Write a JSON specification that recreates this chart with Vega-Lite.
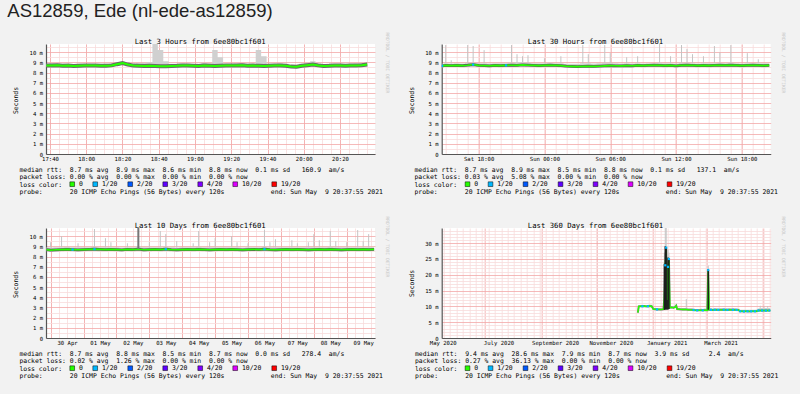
{
"$schema":"https://vega.github.io/schema/vega-lite/v6.json",
"autosize":{"type":"none"},
"padding":{"left":46,"top":44,"right":754,"bottom":350},
"background":"#f2f2f2",
"title":{"text":"AS12859, Ede (nl-ede-as12859)","anchor":"start","frame":"group","font":"Liberation Sans","fontSize":18.5,"fontWeight":"normal","color":"#222222","dx":-38.7,"offset":-3.6,"baseline":"alphabetic"},
"datasets":{
"p1":[
{"t":"2021-05-09T17:38","m":8.68,"lo":8.55,"hi":8.85},
{"t":"2021-05-09T17:41","m":8.7,"lo":8.58,"hi":8.9},
{"t":"2021-05-09T17:44","m":8.72,"lo":8.58,"hi":8.88},
{"t":"2021-05-09T17:47","m":8.66,"lo":8.5,"hi":8.85},
{"t":"2021-05-09T17:50","m":8.68,"lo":8.5,"hi":8.82},
{"t":"2021-05-09T17:53","m":8.65,"lo":8.52,"hi":8.8},
{"t":"2021-05-09T17:56","m":8.66,"lo":8.48,"hi":8.85},
{"t":"2021-05-09T17:59","m":8.68,"lo":8.52,"hi":8.82},
{"t":"2021-05-09T18:02","m":8.7,"lo":8.55,"hi":8.82},
{"t":"2021-05-09T18:05","m":8.68,"lo":8.55,"hi":8.8},
{"t":"2021-05-09T18:08","m":8.66,"lo":8.55,"hi":8.82},
{"t":"2021-05-09T18:11","m":8.66,"lo":8.55,"hi":8.85},
{"t":"2021-05-09T18:14","m":8.7,"lo":8.58,"hi":8.88},
{"t":"2021-05-09T18:17","m":8.82,"lo":8.65,"hi":8.95},
{"t":"2021-05-09T18:20","m":8.92,"lo":8.75,"hi":9.05},
{"t":"2021-05-09T18:23","m":8.78,"lo":8.62,"hi":8.95},
{"t":"2021-05-09T18:26","m":8.68,"lo":8.52,"hi":8.85},
{"t":"2021-05-09T18:29","m":8.66,"lo":8.5,"hi":8.9},
{"t":"2021-05-09T18:32","m":8.65,"lo":8.52,"hi":8.95},
{"t":"2021-05-09T18:35","m":8.66,"lo":8.52,"hi":9.0},
{"t":"2021-05-09T18:38","m":8.64,"lo":8.5,"hi":10.8},
{"t":"2021-05-09T18:41","m":8.62,"lo":8.48,"hi":10.2},
{"t":"2021-05-09T18:44","m":8.62,"lo":8.45,"hi":9.1},
{"t":"2021-05-09T18:47","m":8.64,"lo":8.48,"hi":8.85},
{"t":"2021-05-09T18:50","m":8.66,"lo":8.5,"hi":8.85},
{"t":"2021-05-09T18:53","m":8.7,"lo":8.55,"hi":8.88},
{"t":"2021-05-09T18:56","m":8.68,"lo":8.52,"hi":8.85},
{"t":"2021-05-09T18:59","m":8.66,"lo":8.52,"hi":8.82},
{"t":"2021-05-09T19:02","m":8.64,"lo":8.5,"hi":8.85},
{"t":"2021-05-09T19:05","m":8.68,"lo":8.55,"hi":8.95},
{"t":"2021-05-09T19:08","m":8.66,"lo":8.52,"hi":8.9},
{"t":"2021-05-09T19:11","m":8.64,"lo":8.5,"hi":10.2},
{"t":"2021-05-09T19:14","m":8.66,"lo":8.52,"hi":9.5},
{"t":"2021-05-09T19:17","m":8.68,"lo":8.52,"hi":8.85},
{"t":"2021-05-09T19:20","m":8.7,"lo":8.55,"hi":8.85},
{"t":"2021-05-09T19:23","m":8.68,"lo":8.55,"hi":8.88},
{"t":"2021-05-09T19:26","m":8.72,"lo":8.58,"hi":8.92},
{"t":"2021-05-09T19:29","m":8.66,"lo":8.52,"hi":8.85},
{"t":"2021-05-09T19:32","m":8.68,"lo":8.52,"hi":8.85},
{"t":"2021-05-09T19:35","m":8.66,"lo":8.5,"hi":10.2},
{"t":"2021-05-09T19:38","m":8.64,"lo":8.5,"hi":9.6},
{"t":"2021-05-09T19:41","m":8.66,"lo":8.52,"hi":8.85},
{"t":"2021-05-09T19:44","m":8.68,"lo":8.55,"hi":8.85},
{"t":"2021-05-09T19:47","m":8.7,"lo":8.55,"hi":8.9},
{"t":"2021-05-09T19:50","m":8.66,"lo":8.52,"hi":8.85},
{"t":"2021-05-09T19:53","m":8.58,"lo":8.48,"hi":8.75},
{"t":"2021-05-09T19:56","m":8.56,"lo":8.46,"hi":8.72},
{"t":"2021-05-09T19:59","m":8.66,"lo":8.52,"hi":8.85},
{"t":"2021-05-09T20:02","m":8.72,"lo":8.58,"hi":8.95},
{"t":"2021-05-09T20:05","m":8.78,"lo":8.6,"hi":9.1},
{"t":"2021-05-09T20:08","m":8.7,"lo":8.52,"hi":8.88},
{"t":"2021-05-09T20:11","m":8.64,"lo":8.5,"hi":8.82},
{"t":"2021-05-09T20:14","m":8.66,"lo":8.52,"hi":8.85},
{"t":"2021-05-09T20:17","m":8.7,"lo":8.55,"hi":8.85},
{"t":"2021-05-09T20:20","m":8.68,"lo":8.52,"hi":8.85},
{"t":"2021-05-09T20:23","m":8.66,"lo":8.52,"hi":8.82},
{"t":"2021-05-09T20:26","m":8.68,"lo":8.55,"hi":8.85},
{"t":"2021-05-09T20:29","m":8.7,"lo":8.55,"hi":8.88},
{"t":"2021-05-09T20:32","m":8.72,"lo":8.58,"hi":8.9},
{"t":"2021-05-09T20:35","m":8.78,"lo":8.62,"hi":8.95}
],
"p2":[
{"t":"2021-05-08T14:40","m":8.65,"lo":8.5,"hi":8.85,"loss":"1/20"},
{"t":"2021-05-08T15:00","m":8.7,"lo":8.55,"hi":8.9,"pk":10.7},
{"t":"2021-05-08T15:30","m":8.68,"lo":8.55,"hi":8.88,"pk":9.2},
{"t":"2021-05-08T16:00","m":8.7,"lo":8.55,"hi":8.9},
{"t":"2021-05-08T16:30","m":8.68,"lo":8.52,"hi":8.88},
{"t":"2021-05-08T17:00","m":8.72,"lo":8.55,"hi":8.95,"pk":10.7},
{"t":"2021-05-08T17:30","m":8.78,"lo":8.6,"hi":8.95,"pk":10.6,"loss":"1/20"},
{"t":"2021-05-08T18:00","m":8.7,"lo":8.55,"hi":8.9},
{"t":"2021-05-08T18:30","m":8.68,"lo":8.55,"hi":8.9,"pk":10.2},
{"t":"2021-05-08T19:00","m":8.66,"lo":8.52,"hi":8.88},
{"t":"2021-05-08T19:30","m":8.7,"lo":8.55,"hi":8.9},
{"t":"2021-05-08T20:00","m":8.68,"lo":8.52,"hi":8.9},
{"t":"2021-05-08T20:30","m":8.7,"lo":8.55,"hi":8.9,"loss":"1/20"},
{"t":"2021-05-08T21:00","m":8.72,"lo":8.55,"hi":8.95,"pk":10.7},
{"t":"2021-05-08T21:30","m":8.7,"lo":8.55,"hi":9.0,"pk":9.8},
{"t":"2021-05-08T22:00","m":8.75,"lo":8.58,"hi":9.0,"pk":9.6},
{"t":"2021-05-08T22:30","m":8.72,"lo":8.55,"hi":8.95,"pk":9.7},
{"t":"2021-05-08T23:00","m":8.7,"lo":8.55,"hi":8.92},
{"t":"2021-05-08T23:30","m":8.68,"lo":8.52,"hi":8.9},
{"t":"2021-05-09T00:00","m":8.7,"lo":8.55,"hi":8.9,"pk":9.4},
{"t":"2021-05-09T00:30","m":8.72,"lo":8.55,"hi":8.95},
{"t":"2021-05-09T01:00","m":8.7,"lo":8.55,"hi":8.92},
{"t":"2021-05-09T01:30","m":8.68,"lo":8.52,"hi":8.9,"pk":9.6},
{"t":"2021-05-09T02:00","m":8.62,"lo":8.48,"hi":8.85},
{"t":"2021-05-09T02:30","m":8.6,"lo":8.45,"hi":8.85},
{"t":"2021-05-09T03:00","m":8.58,"lo":8.45,"hi":8.85},
{"t":"2021-05-09T03:30","m":8.6,"lo":8.45,"hi":8.9,"pk":10.7},
{"t":"2021-05-09T04:00","m":8.62,"lo":8.48,"hi":8.9,"pk":9.8},
{"t":"2021-05-09T04:30","m":8.6,"lo":8.45,"hi":8.88},
{"t":"2021-05-09T05:00","m":8.62,"lo":8.48,"hi":8.9},
{"t":"2021-05-09T05:30","m":8.65,"lo":8.5,"hi":8.95,"pk":10.7},
{"t":"2021-05-09T06:00","m":8.68,"lo":8.52,"hi":8.95,"pk":9.9},
{"t":"2021-05-09T06:30","m":8.66,"lo":8.5,"hi":8.9},
{"t":"2021-05-09T07:00","m":8.65,"lo":8.5,"hi":8.88},
{"t":"2021-05-09T07:30","m":8.68,"lo":8.52,"hi":8.9,"pk":9.5},
{"t":"2021-05-09T08:00","m":8.66,"lo":8.5,"hi":8.88},
{"t":"2021-05-09T08:30","m":8.7,"lo":8.55,"hi":8.9,"pk":9.6},
{"t":"2021-05-09T09:00","m":8.68,"lo":8.52,"hi":8.88},
{"t":"2021-05-09T09:30","m":8.7,"lo":8.55,"hi":8.9},
{"t":"2021-05-09T10:00","m":8.72,"lo":8.55,"hi":8.92},
{"t":"2021-05-09T10:30","m":8.7,"lo":8.55,"hi":8.95,"pk":10.8},
{"t":"2021-05-09T11:00","m":8.68,"lo":8.52,"hi":8.9},
{"t":"2021-05-09T11:30","m":8.7,"lo":8.55,"hi":8.9,"pk":9.6},
{"t":"2021-05-09T12:00","m":8.66,"lo":8.5,"hi":8.88},
{"t":"2021-05-09T12:30","m":8.7,"lo":8.55,"hi":8.95,"pk":10.7},
{"t":"2021-05-09T13:00","m":8.72,"lo":8.55,"hi":8.95,"pk":10.3},
{"t":"2021-05-09T13:30","m":8.7,"lo":8.55,"hi":8.9,"pk":9.8},
{"t":"2021-05-09T14:00","m":8.68,"lo":8.52,"hi":8.88},
{"t":"2021-05-09T14:30","m":8.7,"lo":8.55,"hi":8.9,"pk":9.6},
{"t":"2021-05-09T15:00","m":8.68,"lo":8.52,"hi":8.9},
{"t":"2021-05-09T15:30","m":8.7,"lo":8.55,"hi":8.92,"pk":10.6},
{"t":"2021-05-09T16:00","m":8.72,"lo":8.55,"hi":8.92,"pk":10.0},
{"t":"2021-05-09T16:30","m":8.7,"lo":8.55,"hi":8.9},
{"t":"2021-05-09T17:00","m":8.72,"lo":8.55,"hi":8.95,"pk":10.7},
{"t":"2021-05-09T17:30","m":8.7,"lo":8.55,"hi":8.9},
{"t":"2021-05-09T18:00","m":8.68,"lo":8.52,"hi":8.88},
{"t":"2021-05-09T18:30","m":8.7,"lo":8.55,"hi":8.9,"pk":9.9},
{"t":"2021-05-09T19:00","m":8.72,"lo":8.55,"hi":8.92},
{"t":"2021-05-09T19:30","m":8.7,"lo":8.55,"hi":8.9,"pk":9.3},
{"t":"2021-05-09T20:00","m":8.68,"lo":8.52,"hi":8.9},
{"t":"2021-05-09T20:30","m":8.7,"lo":8.55,"hi":8.9}
],
"p3":[
{"t":"2021-04-29T21:00","m":8.68,"lo":8.52,"hi":8.9},
{"t":"2021-04-30T00:00","m":8.62,"lo":8.45,"hi":8.88,"pk":9.4},
{"t":"2021-04-30T04:00","m":8.66,"lo":8.5,"hi":8.9},
{"t":"2021-04-30T08:00","m":8.68,"lo":8.52,"hi":8.92,"pk":10.0},
{"t":"2021-04-30T12:00","m":8.7,"lo":8.55,"hi":8.95},
{"t":"2021-04-30T16:00","m":8.68,"lo":8.52,"hi":8.9,"loss":"1/20"},
{"t":"2021-04-30T20:00","m":8.66,"lo":8.5,"hi":8.9,"pk":9.3},
{"t":"2021-05-01T00:00","m":8.68,"lo":8.52,"hi":8.9},
{"t":"2021-05-01T04:00","m":8.7,"lo":8.55,"hi":8.92},
{"t":"2021-05-01T08:00","m":8.72,"lo":8.55,"hi":8.95,"pk":10.7,"loss":"1/20"},
{"t":"2021-05-01T12:00","m":8.7,"lo":8.52,"hi":8.92},
{"t":"2021-05-01T16:00","m":8.68,"lo":8.52,"hi":8.9,"pk":9.8},
{"t":"2021-05-01T20:00","m":8.7,"lo":8.55,"hi":8.92,"pk":9.4},
{"t":"2021-05-02T00:00","m":8.68,"lo":8.52,"hi":8.9},
{"t":"2021-05-02T04:00","m":8.66,"lo":8.5,"hi":8.88},
{"t":"2021-05-02T08:00","m":8.7,"lo":8.55,"hi":8.9,"pk":9.3},
{"t":"2021-05-02T12:00","m":8.68,"lo":8.52,"hi":8.92},
{"t":"2021-05-02T16:00","m":8.72,"lo":8.55,"hi":9.0,"pk":10.85,"q1":8.75,"q3":10.8},
{"t":"2021-05-02T20:00","m":8.66,"lo":8.5,"hi":8.9},
{"t":"2021-05-03T00:00","m":8.68,"lo":8.52,"hi":8.9,"pk":9.4},
{"t":"2021-05-03T04:00","m":8.7,"lo":8.55,"hi":8.92},
{"t":"2021-05-03T08:00","m":8.68,"lo":8.52,"hi":8.9,"pk":10.5},
{"t":"2021-05-03T12:00","m":8.72,"lo":8.55,"hi":8.95,"pk":10.2,"loss":"1/20"},
{"t":"2021-05-03T16:00","m":8.68,"lo":8.52,"hi":8.9},
{"t":"2021-05-03T20:00","m":8.66,"lo":8.5,"hi":8.88,"pk":9.5},
{"t":"2021-05-04T00:00","m":8.68,"lo":8.52,"hi":8.9},
{"t":"2021-05-04T04:00","m":8.7,"lo":8.55,"hi":8.9},
{"t":"2021-05-04T08:00","m":8.68,"lo":8.52,"hi":8.92,"pk":9.3},
{"t":"2021-05-04T12:00","m":8.7,"lo":8.55,"hi":8.95,"pk":10.5},
{"t":"2021-05-04T16:00","m":8.68,"lo":8.52,"hi":8.9},
{"t":"2021-05-04T20:00","m":8.66,"lo":8.5,"hi":8.9,"pk":9.4},
{"t":"2021-05-05T00:00","m":8.68,"lo":8.52,"hi":8.92,"pk":9.8},
{"t":"2021-05-05T04:00","m":8.7,"lo":8.55,"hi":8.9},
{"t":"2021-05-05T08:00","m":8.68,"lo":8.52,"hi":8.9},
{"t":"2021-05-05T12:00","m":8.7,"lo":8.55,"hi":8.92,"pk":10.0},
{"t":"2021-05-05T16:00","m":8.68,"lo":8.52,"hi":8.9,"pk":9.4},
{"t":"2021-05-05T20:00","m":8.66,"lo":8.5,"hi":8.88},
{"t":"2021-05-06T00:00","m":8.68,"lo":8.52,"hi":8.9,"pk":9.3},
{"t":"2021-05-06T04:00","m":8.7,"lo":8.55,"hi":8.9},
{"t":"2021-05-06T08:00","m":8.68,"lo":8.52,"hi":8.9},
{"t":"2021-05-06T12:00","m":8.72,"lo":8.55,"hi":8.95,"pk":10.6,"loss":"1/20"},
{"t":"2021-05-06T16:00","m":8.68,"lo":8.52,"hi":8.9,"pk":9.4},
{"t":"2021-05-06T20:00","m":8.66,"lo":8.5,"hi":8.9,"pk":9.7},
{"t":"2021-05-07T00:00","m":8.68,"lo":8.52,"hi":8.9},
{"t":"2021-05-07T04:00","m":8.7,"lo":8.55,"hi":8.92},
{"t":"2021-05-07T08:00","m":8.68,"lo":8.52,"hi":8.9,"pk":9.6},
{"t":"2021-05-07T12:00","m":8.7,"lo":8.55,"hi":8.92,"pk":9.3},
{"t":"2021-05-07T16:00","m":8.68,"lo":8.52,"hi":8.9},
{"t":"2021-05-07T20:00","m":8.66,"lo":8.5,"hi":8.9,"pk":9.4},
{"t":"2021-05-08T00:00","m":8.68,"lo":8.52,"hi":8.92,"pk":10.2},
{"t":"2021-05-08T04:00","m":8.7,"lo":8.55,"hi":8.9,"pk":9.6},
{"t":"2021-05-08T08:00","m":8.68,"lo":8.52,"hi":8.9},
{"t":"2021-05-08T12:00","m":8.7,"lo":8.55,"hi":8.95,"pk":10.5},
{"t":"2021-05-08T16:00","m":8.68,"lo":8.52,"hi":8.9,"pk":9.5},
{"t":"2021-05-08T20:00","m":8.66,"lo":8.5,"hi":8.9},
{"t":"2021-05-09T00:00","m":8.68,"lo":8.52,"hi":8.9,"pk":9.4},
{"t":"2021-05-09T04:00","m":8.7,"lo":8.55,"hi":8.92},
{"t":"2021-05-09T08:00","m":8.68,"lo":8.52,"hi":8.9,"pk":10.6},
{"t":"2021-05-09T12:00","m":8.7,"lo":8.55,"hi":8.92,"pk":9.5},
{"t":"2021-05-09T16:00","m":8.68,"lo":8.52,"hi":8.9,"pk":10.2},
{"t":"2021-05-09T20:00","m":8.7,"lo":8.55,"hi":8.92}
],
"p4":[
{"t":"2020-12-15T12:00","m":8.0,"lo":7.85,"hi":8.3},
{"t":"2020-12-16T12:00","m":10.0,"lo":9.8,"hi":10.3},
{"t":"2020-12-18T12:00","m":10.05,"lo":9.85,"hi":10.35},
{"t":"2020-12-20T12:00","m":10.05,"lo":9.85,"hi":10.4,"loss":"1/20"},
{"t":"2020-12-22T12:00","m":10.1,"lo":9.9,"hi":10.45},
{"t":"2020-12-24T12:00","m":10.0,"lo":9.8,"hi":10.4},
{"t":"2020-12-26T12:00","m":10.05,"lo":9.85,"hi":10.4,"loss":"1/20"},
{"t":"2020-12-28T12:00","m":10.1,"lo":9.9,"hi":10.6},
{"t":"2020-12-30T12:00","m":10.05,"lo":9.85,"hi":10.5},
{"t":"2021-01-01T12:00","m":9.15,"lo":8.95,"hi":9.5},
{"t":"2021-01-03T12:00","m":9.1,"lo":8.9,"hi":9.45},
{"t":"2021-01-05T12:00","m":9.05,"lo":8.85,"hi":9.4,"loss":"1/20"},
{"t":"2021-01-07T12:00","m":9.05,"lo":8.85,"hi":9.4},
{"t":"2021-01-09T12:00","m":9.0,"lo":8.8,"hi":9.4},
{"t":"2021-01-11T12:00","m":9.05,"lo":8.85,"hi":9.45},
{"t":"2021-01-12T12:00","m":9.1,"lo":8.9,"hi":9.5},
{"t":"2021-01-13T12:00","m":12.5,"lo":8.8,"hi":9.6,"q1":8.9,"q3":23.5,"pk":27},
{"t":"2021-01-14T12:00","m":23.0,"lo":8.8,"hi":9.6,"q1":9.0,"q3":29,"pk":34.8,"loss":"1/20"},
{"t":"2021-01-15T12:00","m":28.6,"lo":8.8,"hi":9.6,"q1":9.0,"q3":28.8,"pk":34.8,"loss":"1/20"},
{"t":"2021-01-16T12:00","m":9.3,"lo":8.9,"hi":9.8,"q1":9.0,"q3":12},
{"t":"2021-01-17T12:00","m":22.5,"lo":8.8,"hi":9.6,"q1":9.0,"q3":25.5,"pk":28,"loss":"1/20"},
{"t":"2021-01-18T12:00","m":25.0,"lo":9.0,"hi":9.8,"q1":9.2,"q3":25.2,"pk":27,"loss":"1/20"},
{"t":"2021-01-19T12:00","m":9.6,"lo":9.3,"hi":10.0},
{"t":"2021-01-21T12:00","m":9.7,"lo":9.4,"hi":10.1},
{"t":"2021-01-23T12:00","m":9.6,"lo":9.35,"hi":10.0},
{"t":"2021-01-25T12:00","m":9.8,"lo":9.5,"hi":10.6},
{"t":"2021-01-26T12:00","m":10.2,"lo":9.9,"hi":10.6},
{"t":"2021-01-27T12:00","m":9.15,"lo":8.95,"hi":9.6},
{"t":"2021-01-29T12:00","m":9.1,"lo":8.9,"hi":9.6},
{"t":"2021-01-31T12:00","m":9.05,"lo":8.85,"hi":9.5},
{"t":"2021-02-02T12:00","m":9.0,"lo":8.8,"hi":9.5},
{"t":"2021-02-04T12:00","m":9.0,"lo":8.8,"hi":9.5},
{"t":"2021-02-06T12:00","m":9.0,"lo":8.8,"hi":9.5,"pk":12.3},
{"t":"2021-02-08T12:00","m":8.95,"lo":8.75,"hi":9.4},
{"t":"2021-02-10T12:00","m":8.9,"lo":8.7,"hi":9.4},
{"t":"2021-02-12T12:00","m":8.9,"lo":8.7,"hi":9.4},
{"t":"2021-02-14T12:00","m":8.85,"lo":8.65,"hi":9.3,"loss":"1/20"},
{"t":"2021-02-16T12:00","m":8.75,"lo":8.55,"hi":9.2},
{"t":"2021-02-18T12:00","m":8.75,"lo":8.55,"hi":9.2,"loss":"1/20"},
{"t":"2021-02-20T12:00","m":8.75,"lo":8.55,"hi":9.2},
{"t":"2021-02-22T12:00","m":8.8,"lo":8.6,"hi":9.3},
{"t":"2021-02-24T12:00","m":8.75,"lo":8.55,"hi":9.2,"loss":"1/20"},
{"t":"2021-02-26T12:00","m":8.8,"lo":8.6,"hi":9.3},
{"t":"2021-02-28T12:00","m":8.8,"lo":8.6,"hi":9.3},
{"t":"2021-03-01T12:00","m":8.8,"lo":8.6,"hi":9.3},
{"t":"2021-03-02T12:00","m":21.5,"lo":8.8,"hi":9.4,"q1":8.9,"q3":21.8,"pk":22.9,"loss":"1/20"},
{"t":"2021-03-03T12:00","m":8.9,"lo":8.7,"hi":9.4},
{"t":"2021-03-05T12:00","m":8.9,"lo":8.7,"hi":9.4,"loss":"1/20"},
{"t":"2021-03-07T12:00","m":8.85,"lo":8.65,"hi":9.35},
{"t":"2021-03-09T12:00","m":8.9,"lo":8.7,"hi":9.4,"loss":"1/20"},
{"t":"2021-03-11T12:00","m":8.9,"lo":8.7,"hi":9.4},
{"t":"2021-03-13T12:00","m":8.88,"lo":8.68,"hi":9.4,"loss":"1/20"},
{"t":"2021-03-15T12:00","m":8.9,"lo":8.7,"hi":9.45},
{"t":"2021-03-17T12:00","m":8.9,"lo":8.7,"hi":9.4},
{"t":"2021-03-19T12:00","m":8.92,"lo":8.72,"hi":9.45,"loss":"1/20"},
{"t":"2021-03-21T12:00","m":8.9,"lo":8.7,"hi":9.4},
{"t":"2021-03-23T12:00","m":8.88,"lo":8.68,"hi":9.4,"loss":"1/20"},
{"t":"2021-03-25T12:00","m":8.9,"lo":8.7,"hi":9.5},
{"t":"2021-03-27T12:00","m":8.92,"lo":8.72,"hi":9.45},
{"t":"2021-03-29T12:00","m":8.9,"lo":8.7,"hi":9.4,"loss":"1/20"},
{"t":"2021-03-31T12:00","m":8.9,"lo":8.7,"hi":9.4},
{"t":"2021-04-02T12:00","m":8.88,"lo":8.68,"hi":9.4,"loss":"1/20"},
{"t":"2021-04-04T12:00","m":8.85,"lo":8.65,"hi":9.35},
{"t":"2021-04-06T12:00","m":8.45,"lo":8.3,"hi":8.9,"loss":"1/20"},
{"t":"2021-04-08T12:00","m":8.45,"lo":8.3,"hi":8.9},
{"t":"2021-04-10T12:00","m":8.42,"lo":8.28,"hi":8.9,"loss":"1/20"},
{"t":"2021-04-12T12:00","m":8.45,"lo":8.3,"hi":8.95},
{"t":"2021-04-14T12:00","m":8.45,"lo":8.3,"hi":8.9,"loss":"1/20"},
{"t":"2021-04-16T12:00","m":8.42,"lo":8.28,"hi":8.9},
{"t":"2021-04-18T12:00","m":8.45,"lo":8.3,"hi":8.9,"loss":"1/20"},
{"t":"2021-04-20T12:00","m":8.45,"lo":8.3,"hi":8.95},
{"t":"2021-04-22T12:00","m":8.45,"lo":8.3,"hi":8.9,"loss":"1/20"},
{"t":"2021-04-24T12:00","m":8.48,"lo":8.32,"hi":9.0},
{"t":"2021-04-26T12:00","m":8.7,"lo":8.5,"hi":9.3,"loss":"1/20"},
{"t":"2021-04-28T12:00","m":8.68,"lo":8.5,"hi":9.6,"pk":10.2},
{"t":"2021-04-30T12:00","m":8.7,"lo":8.5,"hi":9.5,"loss":"1/20"},
{"t":"2021-05-02T12:00","m":8.7,"lo":8.5,"hi":9.6,"pk":10.0},
{"t":"2021-05-04T12:00","m":8.68,"lo":8.5,"hi":9.5,"loss":"1/20"},
{"t":"2021-05-06T12:00","m":8.7,"lo":8.5,"hi":9.6,"pk":10.1},
{"t":"2021-05-08T12:00","m":8.7,"lo":8.5,"hi":9.5,"loss":"1/20"},
{"t":"2021-05-09T12:00","m":8.7,"lo":8.5,"hi":9.4}
]
},
"concat":[
{
"width":329,"height":110,
"title":{"text":"Last 3 Hours from 6ee80bc1f601","dx":-10.3,"offset":-13.4},
"data":{"name":"p1"},
"layer":[
{"mark":{"type":"area","interpolate":"step","color":"#d0d0d0","clip":true},
"encoding":{
"x":{"field":"t","type":"temporal","scale":{"domain":[{"year":2021,"month":5,"date":9,"hours":17,"minutes":37,"seconds":48},{"year":2021,"month":5,"date":9,"hours":20,"minutes":39,"seconds":18}]},"axis":{"orient":"bottom","grid":true,"gridColor":"#f8dcdc","labels":false,"ticks":false,"domain":false,"title":null,"tickCount":36}},
"y":{"field":"lo","type":"quantitative","scale":{"domain":[0,10.8],"nice":false},"axis":{"orient":"left","grid":true,"gridColor":"#f8dcdc","labels":false,"ticks":false,"domain":false,"title":null,"values":[0.5,1.5,2.5,3.5,4.5,5.5,6.5,7.5,8.5,9.5,10.5]}},
"y2":{"field":"hi"}}},
{"mark":{"type":"rule","color":"#c4c4c4","strokeWidth":1,"clip":true},
"transform":[{"filter":"datum.pk != null"}],
"encoding":{
"x":{"field":"t","type":"temporal","axis":{"orient":"bottom","grid":true,"gridColor":"#f3a8a8","labels":false,"ticks":false,"domain":false,"title":null,"values":[{"year":2021,"month":5,"date":9,"hours":17,"minutes":40},{"year":2021,"month":5,"date":9,"hours":18,"minutes":0},{"year":2021,"month":5,"date":9,"hours":18,"minutes":20},{"year":2021,"month":5,"date":9,"hours":18,"minutes":40},{"year":2021,"month":5,"date":9,"hours":19,"minutes":0},{"year":2021,"month":5,"date":9,"hours":19,"minutes":20},{"year":2021,"month":5,"date":9,"hours":19,"minutes":40},{"year":2021,"month":5,"date":9,"hours":20,"minutes":0},{"year":2021,"month":5,"date":9,"hours":20,"minutes":20}]}},
"y":{"field":"hi","type":"quantitative","axis":{"orient":"left","grid":true,"gridColor":"#f3a8a8","values":[0,1,2,3,4,5,6,7,8,9,10],"labelExpr":"datum.value == 0 ? '0' : datum.value + ' m'","domain":true,"domainColor":"#555555","domainWidth":1.2,"ticks":false,"labelPadding":3.5,"title":"Seconds","titleX":-30.7,"titleY":56,"titleAngle":-90,"titleAlign":"center","titleBaseline":"middle"}},
"y2":{"field":"pk"}}},
{"mark":{"type":"line","color":"#6a6a6a","strokeWidth":4,"clip":true},
"encoding":{
"x":{"field":"t","type":"temporal","axis":{"orient":"bottom","grid":false,"labels":true,"ticks":false,"domain":true,"domainColor":"#555555","domainWidth":1.2,"labelPadding":2,"format":"%H:%M","values":[{"year":2021,"month":5,"date":9,"hours":17,"minutes":40},{"year":2021,"month":5,"date":9,"hours":18,"minutes":0},{"year":2021,"month":5,"date":9,"hours":18,"minutes":20},{"year":2021,"month":5,"date":9,"hours":18,"minutes":40},{"year":2021,"month":5,"date":9,"hours":19,"minutes":0},{"year":2021,"month":5,"date":9,"hours":19,"minutes":20},{"year":2021,"month":5,"date":9,"hours":19,"minutes":40},{"year":2021,"month":5,"date":9,"hours":20,"minutes":0},{"year":2021,"month":5,"date":9,"hours":20,"minutes":20}],"labelOverlap":false,"title":["median rtt:\u00a0\u00a08.7 ms avg\u00a0\u00a08.9 ms max\u00a0\u00a08.6 ms min\u00a0\u00a08.8 ms now\u00a0\u00a00.1 ms sd\u00a0\u00a0\u00a0160.9\u00a0\u00a0am/s","packet loss: 0.00 % avg\u00a0\u00a00.00 % max\u00a0\u00a00.00 % min\u00a0\u00a00.00 % now","loss color:","probe:\u00a0\u00a0\u00a0\u00a0\u00a0\u00a0\u00a020 ICMP Echo Pings (56 Bytes) every 120s\u00a0\u00a0\u00a0\u00a0\u00a0\u00a0\u00a0\u00a0\u00a0\u00a0\u00a0\u00a0end: Sun May\u00a0\u00a09 20:37:55 2021"],"titleX":-27,"titleY":12,"titleAlign":"left","titleAnchor":"start","titleBaseline":"top","titleAngle":0,"titleLineHeight":7.55}},
"y":{"field":"m","type":"quantitative","axis":{"orient":"right","grid":false,"labels":false,"ticks":false,"domain":false,"title":"RRDTOOL / TOBI OETIKER","titleX":11.7,"titleY":-12,"titleAngle":90,"titleAlign":"left","titleBaseline":"middle","titleFontSize":4.6,"titleColor":"#c8c8c8"}}}},
{"mark":{"type":"line","color":"#26ff00","strokeWidth":2,"clip":true},
"encoding":{"x":{"field":"t","type":"temporal","axis":null},"y":{"field":"m","type":"quantitative","axis":null}}},
{"mark":{"type":"square","size":5,"filled":true,"opacity":1,"clip":true},
"transform":[{"filter":"datum.loss != null"}],
"encoding":{"x":{"field":"t","type":"temporal","axis":null},"y":{"field":"m","type":"quantitative","axis":null},
"color":{"field":"loss","type":"nominal","scale":{"domain":["0","1/20","2/20","3/20","4/20","10/20","19/20"],"range":["#26ff00","#00b8ff","#0059ff","#5e00ff","#7e00ff","#dd00ff","#ff0000"]},"legend":{"orient":"none","legendX":23,"legendY":136.8,"direction":"horizontal","title":null}}}}
],
"resolve":{"axis":{"x":"independent","y":"independent"}}
},
{
"width":329,"height":110,
"title":{"text":"Last 30 Hours from 6ee80bc1f601","dx":-10.7,"offset":-13.4},
"data":{"name":"p2"},
"layer":[
{"mark":{"type":"area","interpolate":"step","color":"#d0d0d0","clip":true},
"encoding":{
"x":{"field":"t","type":"temporal","scale":{"domain":[{"year":2021,"month":5,"date":8,"hours":14,"minutes":37,"seconds":55},{"year":2021,"month":5,"date":9,"hours":20,"minutes":37,"seconds":55}]},"axis":{"orient":"bottom","grid":true,"gridColor":"#f8dcdc","labels":false,"ticks":false,"domain":false,"title":null,"tickCount":30}},
"y":{"field":"lo","type":"quantitative","scale":{"domain":[0,10.8],"nice":false},"axis":{"orient":"left","grid":true,"gridColor":"#f8dcdc","labels":false,"ticks":false,"domain":false,"title":null,"values":[0.5,1.5,2.5,3.5,4.5,5.5,6.5,7.5,8.5,9.5,10.5]}},
"y2":{"field":"hi"}}},
{"mark":{"type":"rule","color":"#c4c4c4","strokeWidth":1,"clip":true},
"transform":[{"filter":"datum.pk != null"}],
"encoding":{
"x":{"field":"t","type":"temporal","axis":{"orient":"bottom","grid":true,"gridColor":"#f3a8a8","labels":false,"ticks":false,"domain":false,"title":null,"tickCount":5}},
"y":{"field":"hi","type":"quantitative","axis":{"orient":"left","grid":true,"gridColor":"#f3a8a8","values":[0,1,2,3,4,5,6,7,8,9,10],"labelExpr":"datum.value == 0 ? '0' : datum.value + ' m'","domain":true,"domainColor":"#555555","domainWidth":1.2,"ticks":false,"labelPadding":3.5,"title":"Seconds","titleX":-30.7,"titleY":56,"titleAngle":-90,"titleAlign":"center","titleBaseline":"middle"}},
"y2":{"field":"pk"}}},
{"mark":{"type":"line","color":"#5a5a5a","strokeWidth":2.8,"clip":true},
"encoding":{
"x":{"field":"t","type":"temporal","axis":{"orient":"bottom","grid":false,"labels":true,"ticks":false,"domain":true,"domainColor":"#555555","domainWidth":1.2,"labelPadding":2,"format":"%a %H:%M","tickCount":5,"labelOverlap":false,"title":["median rtt:\u00a0\u00a08.7 ms avg\u00a0\u00a08.9 ms max\u00a0\u00a08.5 ms min\u00a0\u00a08.8 ms now\u00a0\u00a00.1 ms sd\u00a0\u00a0\u00a0137.1\u00a0\u00a0am/s","packet loss: 0.03 % avg\u00a0\u00a05.08 % max\u00a0\u00a00.00 % min\u00a0\u00a00.00 % now","loss color:","probe:\u00a0\u00a0\u00a0\u00a0\u00a0\u00a0\u00a020 ICMP Echo Pings (56 Bytes) every 120s\u00a0\u00a0\u00a0\u00a0\u00a0\u00a0\u00a0\u00a0\u00a0\u00a0\u00a0\u00a0end: Sun May\u00a0\u00a09 20:37:55 2021"],"titleX":-27.7,"titleY":12,"titleAlign":"left","titleAnchor":"start","titleBaseline":"top","titleAngle":0,"titleLineHeight":7.55}},
"y":{"field":"m","type":"quantitative","axis":{"orient":"right","grid":false,"labels":false,"ticks":false,"domain":false,"title":"RRDTOOL / TOBI OETIKER","titleX":11.7,"titleY":-12,"titleAngle":90,"titleAlign":"left","titleBaseline":"middle","titleFontSize":4.6,"titleColor":"#c8c8c8"}}}},
{"mark":{"type":"line","color":"#26ff00","strokeWidth":1.6,"clip":true},
"encoding":{"x":{"field":"t","type":"temporal","axis":null},"y":{"field":"m","type":"quantitative","axis":null}}},
{"mark":{"type":"square","size":5,"filled":true,"opacity":1,"clip":true},
"transform":[{"filter":"datum.loss != null"}],
"encoding":{"x":{"field":"t","type":"temporal","axis":null},"y":{"field":"m","type":"quantitative","axis":null},
"color":{"field":"loss","type":"nominal","scale":{"domain":["0","1/20","2/20","3/20","4/20","10/20","19/20"],"range":["#26ff00","#00b8ff","#0059ff","#5e00ff","#7e00ff","#dd00ff","#ff0000"]},"legend":{"orient":"none","legendX":22.6,"legendY":136.8,"direction":"horizontal","title":null}}}}
],
"resolve":{"axis":{"x":"independent","y":"independent"}}
},
{
"width":329,"height":110,
"title":{"text":"Last 10 Days from 6ee80bc1f601","dx":-10.3,"offset":-13.4},
"data":{"name":"p3"},
"layer":[
{"mark":{"type":"area","interpolate":"step","color":"#d0d0d0","clip":true},
"encoding":{
"x":{"field":"t","type":"temporal","scale":{"domain":[{"year":2021,"month":4,"date":29,"hours":20,"minutes":37,"seconds":55},{"year":2021,"month":5,"date":9,"hours":20,"minutes":37,"seconds":55}]},"axis":{"orient":"bottom","grid":true,"gridColor":"#f8dcdc","labels":false,"ticks":false,"domain":false,"title":null,"tickCount":40}},
"y":{"field":"lo","type":"quantitative","scale":{"domain":[0,10.8],"nice":false},"axis":{"orient":"left","grid":true,"gridColor":"#f8dcdc","labels":false,"ticks":false,"domain":false,"title":null,"values":[0.5,1.5,2.5,3.5,4.5,5.5,6.5,7.5,8.5,9.5,10.5]}},
"y2":{"field":"hi"}}},
{"mark":{"type":"rule","color":"#c4c4c4","strokeWidth":1,"clip":true},
"transform":[{"filter":"datum.pk != null"}],
"encoding":{
"x":{"field":"t","type":"temporal","axis":{"orient":"bottom","grid":true,"gridColor":"#f3a8a8","labels":false,"ticks":false,"domain":false,"title":null,"tickCount":10}},
"y":{"field":"hi","type":"quantitative","axis":{"orient":"left","grid":true,"gridColor":"#f3a8a8","values":[0,1,2,3,4,5,6,7,8,9,10],"labelExpr":"datum.value == 0 ? '0' : datum.value + ' m'","domain":true,"domainColor":"#555555","domainWidth":1.2,"ticks":false,"labelPadding":3.5,"title":"Seconds","titleX":-30.7,"titleY":56,"titleAngle":-90,"titleAlign":"center","titleBaseline":"middle"}},
"y2":{"field":"pk"}}},
{"mark":{"type":"line","color":"#5a5a5a","strokeWidth":2.8,"clip":true},
"encoding":{
"x":{"field":"t","type":"temporal","axis":{"orient":"bottom","grid":false,"labels":true,"ticks":false,"domain":true,"domainColor":"#555555","domainWidth":1.2,"labelPadding":2,"labelOffset":16.45,"format":"%d %b","tickCount":10,"labelOverlap":false,"title":["median rtt:\u00a0\u00a08.7 ms avg\u00a0\u00a08.8 ms max\u00a0\u00a08.5 ms min\u00a0\u00a08.7 ms now\u00a0\u00a00.0 ms sd\u00a0\u00a0\u00a0278.4\u00a0\u00a0am/s","packet loss: 0.02 % avg\u00a0\u00a01.26 % max\u00a0\u00a00.00 % min\u00a0\u00a00.00 % now","loss color:","probe:\u00a0\u00a0\u00a0\u00a0\u00a0\u00a0\u00a020 ICMP Echo Pings (56 Bytes) every 120s\u00a0\u00a0\u00a0\u00a0\u00a0\u00a0\u00a0\u00a0\u00a0\u00a0\u00a0\u00a0end: Sun May\u00a0\u00a09 20:37:55 2021"],"titleX":-27,"titleY":12,"titleAlign":"left","titleAnchor":"start","titleBaseline":"top","titleAngle":0,"titleLineHeight":7.55}},
"y":{"field":"m","type":"quantitative","axis":{"orient":"right","grid":false,"labels":false,"ticks":false,"domain":false,"title":"RRDTOOL / TOBI OETIKER","titleX":11.7,"titleY":-12,"titleAngle":90,"titleAlign":"left","titleBaseline":"middle","titleFontSize":4.6,"titleColor":"#c8c8c8"}}}},
{"mark":{"type":"line","color":"#26ff00","strokeWidth":1.6,"clip":true},
"encoding":{"x":{"field":"t","type":"temporal","axis":null},"y":{"field":"m","type":"quantitative","axis":null}}},
{"mark":{"type":"rule","color":"#777777","strokeWidth":2,"clip":true},
"transform":[{"filter":"datum.q1 != null"}],
"encoding":{"x":{"field":"t","type":"temporal","axis":null},"y":{"field":"q1","type":"quantitative","axis":null},"y2":{"field":"q3"}}},
{"mark":{"type":"square","size":5,"filled":true,"opacity":1,"clip":true},
"transform":[{"filter":"datum.loss != null"}],
"encoding":{"x":{"field":"t","type":"temporal","axis":null},"y":{"field":"m","type":"quantitative","axis":null},
"color":{"field":"loss","type":"nominal","scale":{"domain":["0","1/20","2/20","3/20","4/20","10/20","19/20"],"range":["#26ff00","#00b8ff","#0059ff","#5e00ff","#7e00ff","#dd00ff","#ff0000"]},"legend":{"orient":"none","legendX":23,"legendY":136.8,"direction":"horizontal","title":null}}}}
],
"resolve":{"axis":{"x":"independent","y":"independent"}}
},
{
"width":329,"height":110,
"title":{"text":"Last 360 Days from 6ee80bc1f601","dx":-10.7,"offset":-13.4},
"data":{"name":"p4"},
"layer":[
{"mark":{"type":"area","interpolate":"step","color":"#d0d0d0","clip":true},
"encoding":{
"x":{"field":"t","type":"temporal","scale":{"domain":[{"year":2020,"month":5,"date":14,"hours":20,"minutes":37,"seconds":55},{"year":2021,"month":5,"date":9,"hours":20,"minutes":37,"seconds":55}]},"axis":{"orient":"bottom","grid":true,"gridColor":"#f8dcdc","labels":false,"ticks":false,"domain":false,"title":null,"tickCount":51}},
"y":{"field":"lo","type":"quantitative","scale":{"domain":[0,34.8],"nice":false},"axis":{"orient":"left","grid":true,"gridColor":"#f8dcdc","labels":false,"ticks":false,"domain":false,"title":null,"values":[1,2,3,4,6,7,8,9,11,12,13,14,16,17,18,19,21,22,23,24,26,27,28,29,31,32,33,34]}},
"y2":{"field":"hi"}}},
{"mark":{"type":"rule","color":"#c4c4c4","strokeWidth":1,"clip":true},
"transform":[{"filter":"datum.pk != null"}],
"encoding":{
"x":{"field":"t","type":"temporal","axis":{"orient":"bottom","grid":true,"gridColor":"#f3a8a8","labels":false,"ticks":false,"domain":false,"title":null,"values":[{"year":2020,"month":7,"date":1},{"year":2020,"month":9,"date":1},{"year":2020,"month":11,"date":1},{"year":2021,"month":1,"date":1},{"year":2021,"month":3,"date":1},{"year":2021,"month":5,"date":1}]}},
"y":{"field":"hi","type":"quantitative","axis":{"orient":"left","grid":true,"gridColor":"#f3a8a8","values":[0,5,10,15,20,25,30],"labelExpr":"datum.value == 0 ? '0' : datum.value + ' m'","domain":true,"domainColor":"#555555","domainWidth":1.2,"ticks":false,"labelPadding":3.5,"title":"Seconds","titleX":-30.7,"titleY":55,"titleAngle":-90,"titleAlign":"center","titleBaseline":"middle"}},
"y2":{"field":"pk"}}},
{"mark":{"type":"line","color":"#808080","strokeWidth":2,"clip":true},
"encoding":{
"x":{"field":"t","type":"temporal","axis":{"orient":"bottom","grid":false,"labels":true,"ticks":false,"domain":true,"domainColor":"#555555","domainWidth":1.2,"labelPadding":2,"format":"%B %Y","values":[{"year":2020,"month":5,"date":16},{"year":2020,"month":7,"date":16},{"year":2020,"month":9,"date":16},{"year":2020,"month":11,"date":16},{"year":2021,"month":1,"date":16},{"year":2021,"month":3,"date":16}],"labelOverlap":false,"title":["median rtt:\u00a0\u00a09.4 ms avg\u00a0\u00a028.6 ms max\u00a0\u00a07.9 ms min\u00a0\u00a08.7 ms now\u00a0\u00a03.9 ms sd\u00a0\u00a0\u00a0\u00a0\u00a02.4\u00a0\u00a0am/s","packet loss: 0.27 % avg\u00a0\u00a036.13 % max\u00a0\u00a00.00 % min\u00a0\u00a00.00 % now","loss color:","probe:\u00a0\u00a0\u00a0\u00a0\u00a0\u00a0\u00a020 ICMP Echo Pings (56 Bytes) every 120s\u00a0\u00a0\u00a0\u00a0\u00a0\u00a0\u00a0\u00a0\u00a0\u00a0\u00a0\u00a0end: Sun May\u00a0\u00a09 20:37:55 2021"],"titleX":-27.3,"titleY":12,"titleAlign":"left","titleAnchor":"start","titleBaseline":"top","titleAngle":0,"titleLineHeight":7.55}},
"y":{"field":"m","type":"quantitative","axis":{"orient":"right","grid":false,"labels":false,"ticks":false,"domain":false,"title":"RRDTOOL / TOBI OETIKER","titleX":11.7,"titleY":-12,"titleAngle":90,"titleAlign":"left","titleBaseline":"middle","titleFontSize":4.6,"titleColor":"#c8c8c8"}}}},
{"mark":{"type":"line","color":"#26ff00","strokeWidth":1.4,"clip":true},
"encoding":{"x":{"field":"t","type":"temporal","axis":null},"y":{"field":"m","type":"quantitative","axis":null}}},
{"mark":{"type":"rule","color":"#1e1e1e","strokeWidth":1.5,"clip":true},
"transform":[{"filter":"datum.q1 != null"}],
"encoding":{"x":{"field":"t","type":"temporal","axis":null},"y":{"field":"q1","type":"quantitative","axis":null},"y2":{"field":"q3"}}},
{"mark":{"type":"square","size":5,"filled":true,"opacity":1,"clip":true},
"transform":[{"filter":"datum.loss != null"}],
"encoding":{"x":{"field":"t","type":"temporal","axis":null},"y":{"field":"m","type":"quantitative","axis":null},
"color":{"field":"loss","type":"nominal","scale":{"domain":["0","1/20","2/20","3/20","4/20","10/20","19/20"],"range":["#26ff00","#00b8ff","#0059ff","#5e00ff","#7e00ff","#dd00ff","#ff0000"]},"legend":{"orient":"none","legendX":22.6,"legendY":136.8,"direction":"horizontal","title":null}}}}
],
"resolve":{"axis":{"x":"independent","y":"independent"}}
}
],
"columns":2,
"spacing":{"row":74,"column":66.7},
"bounds":"flush",
"resolve":{"scale":{"x":"independent","y":"independent","color":"independent"},"axis":{"x":"independent","y":"independent"},"legend":{"color":"independent"}},
"config":{
"view":{"fill":"#ffffff","stroke":null},
"axis":{"labelFont":"DejaVu Sans Mono","labelFontSize":5.6,"labelColor":"#000000","titleFont":"DejaVu Sans Mono","titleFontSize":6.43,"titleFontWeight":"normal","titleColor":"#000000","gridWidth":0.8,"tickSize":0},
"title":{"font":"DejaVu Sans Mono","fontSize":7.25,"fontWeight":"normal","color":"#000000","anchor":"middle","frame":"group","baseline":"middle"},
"legend":{"symbolType":"square","symbolSize":22,"symbolStrokeColor":"#000000","symbolStrokeWidth":0.5,"symbolOpacity":1,"labelFont":"DejaVu Sans Mono","labelFontSize":6.43,"labelColor":"#000000","labelOffset":3.5,"columnPadding":8,"padding":0,"labelLimit":0}
}
}
